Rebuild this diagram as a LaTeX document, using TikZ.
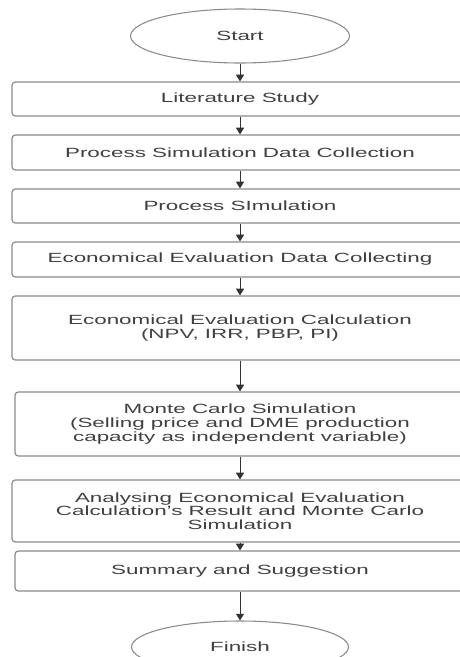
\documentclass[tikz,border=0pt]{standalone}
\usepackage{fontspec}
\setmainfont{Liberation Sans}[FakeStretch=1.68]
\usetikzlibrary{shapes.geometric,arrows.meta}
\definecolor{boxline}{HTML}{8A8A8A}
\definecolor{txt}{HTML}{404040}
\definecolor{arrowc}{HTML}{333333}
\begin{document}
\begin{tikzpicture}[x=0.75pt,y=-0.75pt,
  every node/.style={font=\fontsize{10}{10.3}\selectfont, text=txt, inner sep=0pt, align=center},
  stepbox/.style={draw=boxline, line width=0.9pt, rounded corners=2.5pt, minimum width=342pt},
  narrowbox/.style={stepbox, minimum width=337.5pt},
  terminal/.style={draw=boxline, line width=0.8pt, ellipse},
  arr/.style={draw=arrowc, line width=0.75pt, -{Triangle[width=6pt,length=5pt]}}]
\useasboundingbox (0,0) rectangle (460,657);
\clip (0,0) rectangle (460,657);

% terminals and process steps, top to bottom
\node[terminal, minimum width=164.25pt, minimum height=40.5pt] (start) at (240,36) {Start};
\node[stepbox, minimum height=25.5pt] (lit) at (240,99) {Literature Study};
\node[stepbox, minimum height=26.25pt] (psdc) at (240,152.5) {Process Simulation Data Collection};
\node[stepbox, minimum height=25.5pt] (ps) at (240,206) {Process SImulation};
\node[stepbox, minimum height=26.25pt] (eedc) at (240,259.5) {Economical Evaluation Data Collecting};
\node[stepbox, minimum height=48pt] (eec) at (240,328) {Economical Evaluation Calculation\\(NPV, IRR, PBP, PI)};
\node[narrowbox, minimum height=48pt] (mc) at (240,424) {Monte Carlo Simulation\\(Selling price and DME production\\capacity as independent variable)};
\node[stepbox, minimum height=46.5pt] (an) at (240,511) {Analysing Economical Evaluation\\Calculation's Result and Monte Carlo\\Simulation};
\node[narrowbox, minimum height=30pt] (sum) at (240,571) {Summary and Suggestion};
\node[terminal, minimum width=162.75pt, minimum height=39pt] (fin) at (240,647) {Finish};

% flow connectors
\draw[arr] (start) -- (lit);
\draw[arr] (lit) -- (psdc);
\draw[arr] (psdc) -- (ps);
\draw[arr] (ps) -- (eedc);
\draw[arr] (eedc) -- (eec);
\draw[arr] (eec) -- (mc);
\draw[arr] (mc) -- (an);
\draw[arr] (an) -- (sum);
\draw[arr] (sum) -- (fin);
\end{tikzpicture}
\end{document}
